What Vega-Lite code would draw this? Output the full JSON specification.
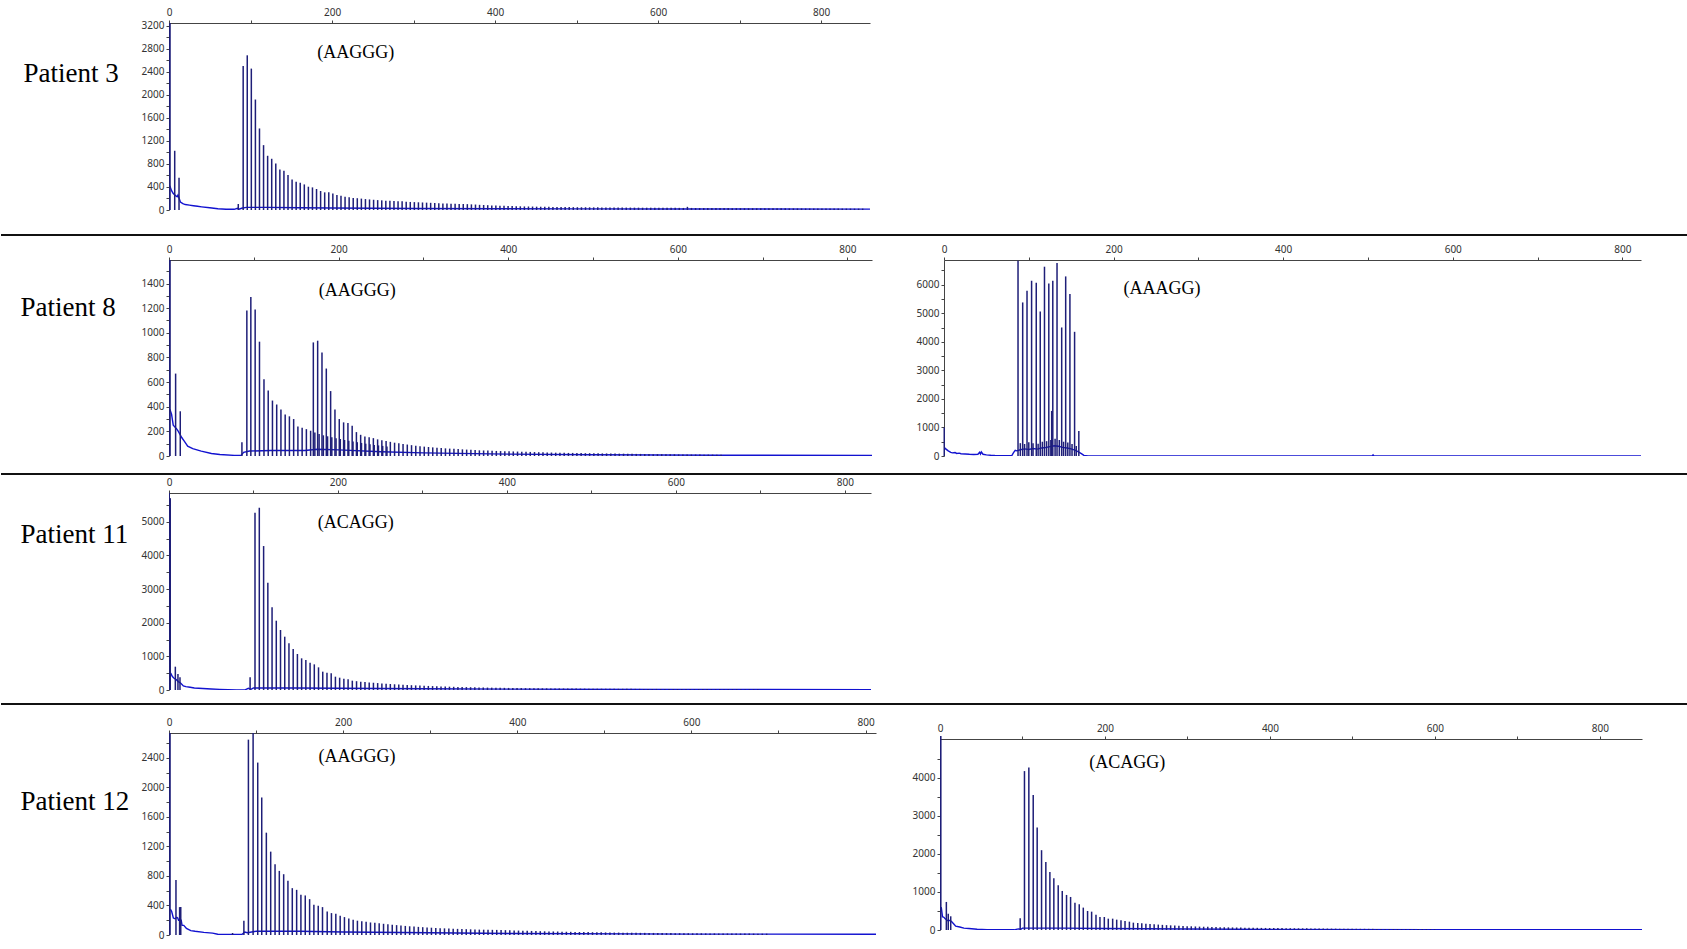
{
"$schema":"https://vega.github.io/schema/vega-lite/v6.json",
"padding":0,
"autosize":{"type":"pad"},
"background":"white",
"config":{"view":{"stroke":null},"axis":{"labelFont":"Noto Sans","labelFontSize":10,"labelColor":"#333","tickSize":3,"tickColor":"#444","domainColor":"#444","grid":false,"labelFlush":false,"labelOverlap":false}},
"datasets":{
"notes":[{"p":1,"x":229,"y":2730,"t":"(AAGGG)"},{"p":2,"x":222,"y":1339,"t":"(AAGGG)"},{"p":3,"x":257,"y":5851,"t":"(AAAGG)"},{"p":4,"x":221,"y":4962,"t":"(ACAGG)"},{"p":5,"x":216,"y":2417,"t":"(AAGGG)"},{"p":6,"x":227,"y":4388,"t":"(ACAGG)"}],
"trace":[
{"p":1,"x":1,"y":420},{"p":1,"x":3,"y":340},{"p":1,"x":5,"y":290},{"p":1,"x":8,"y":250},{"p":1,"x":10,"y":230},{"p":1,"x":11,"y":260},{"p":1,"x":14,"y":140},{"p":1,"x":17,"y":110},{"p":1,"x":20,"y":95},{"p":1,"x":25,"y":85},{"p":1,"x":30,"y":75},{"p":1,"x":35,"y":65},{"p":1,"x":40,"y":55},{"p":1,"x":50,"y":38},{"p":1,"x":60,"y":22},{"p":1,"x":70,"y":14},{"p":1,"x":80,"y":12},{"p":1,"x":84,"y":30},{"p":1,"x":86,"y":15},{"p":1,"x":89,"y":30},{"p":1,"x":95,"y":45},{"p":1,"x":120,"y":45},{"p":1,"x":160,"y":40},{"p":1,"x":200,"y":35},{"p":1,"x":250,"y":30},{"p":1,"x":300,"y":26},{"p":1,"x":400,"y":22},{"p":1,"x":500,"y":20},{"p":1,"x":600,"y":18},{"p":1,"x":700,"y":17},{"p":1,"x":860,"y":16},
{"p":2,"x":1,"y":380},{"p":2,"x":3,"y":340},{"p":2,"x":5,"y":250},{"p":2,"x":9,"y":220},{"p":2,"x":11,"y":200},{"p":2,"x":15,"y":150},{"p":2,"x":18,"y":120},{"p":2,"x":22,"y":80},{"p":2,"x":28,"y":60},{"p":2,"x":38,"y":40},{"p":2,"x":50,"y":20},{"p":2,"x":60,"y":12},{"p":2,"x":77,"y":5},{"p":2,"x":85,"y":5},{"p":2,"x":88,"y":30},{"p":2,"x":95,"y":40},{"p":2,"x":120,"y":45},{"p":2,"x":160,"y":45},{"p":2,"x":175,"y":55},{"p":2,"x":200,"y":50},{"p":2,"x":250,"y":35},{"p":2,"x":300,"y":25},{"p":2,"x":400,"y":15},{"p":2,"x":500,"y":10},{"p":2,"x":650,"y":6},{"p":2,"x":829,"y":5},
{"p":3,"x":0.5,"y":300},{"p":3,"x":2,"y":250},{"p":3,"x":5,"y":180},{"p":3,"x":8,"y":130},{"p":3,"x":10,"y":110},{"p":3,"x":13,"y":120},{"p":3,"x":15,"y":90},{"p":3,"x":18,"y":100},{"p":3,"x":20,"y":80},{"p":3,"x":25,"y":70},{"p":3,"x":30,"y":60},{"p":3,"x":35,"y":55},{"p":3,"x":40,"y":60},{"p":3,"x":42,"y":130},{"p":3,"x":43,"y":70},{"p":3,"x":44,"y":140},{"p":3,"x":46,"y":60},{"p":3,"x":50,"y":40},{"p":3,"x":55,"y":25},{"p":3,"x":60,"y":15},{"p":3,"x":70,"y":10},{"p":3,"x":80,"y":15},{"p":3,"x":82,"y":120},{"p":3,"x":84,"y":200},{"p":3,"x":86,"y":180},{"p":3,"x":90,"y":220},{"p":3,"x":95,"y":250},{"p":3,"x":100,"y":230},{"p":3,"x":105,"y":260},{"p":3,"x":110,"y":240},{"p":3,"x":115,"y":280},{"p":3,"x":120,"y":300},{"p":3,"x":125,"y":330},{"p":3,"x":130,"y":360},{"p":3,"x":135,"y":340},{"p":3,"x":140,"y":300},{"p":3,"x":145,"y":280},{"p":3,"x":150,"y":250},{"p":3,"x":155,"y":200},{"p":3,"x":158,"y":150},{"p":3,"x":162,"y":80},{"p":3,"x":165,"y":20},{"p":3,"x":170,"y":5},{"p":3,"x":505,"y":5},{"p":3,"x":506,"y":40},{"p":3,"x":507,"y":5},{"p":3,"x":822,"y":5},
{"p":4,"x":2,"y":500},{"p":4,"x":4,"y":400},{"p":4,"x":6,"y":350},{"p":4,"x":9,"y":300},{"p":4,"x":11,"y":250},{"p":4,"x":14,"y":200},{"p":4,"x":17,"y":120},{"p":4,"x":20,"y":100},{"p":4,"x":25,"y":80},{"p":4,"x":30,"y":60},{"p":4,"x":40,"y":45},{"p":4,"x":50,"y":30},{"p":4,"x":60,"y":20},{"p":4,"x":70,"y":10},{"p":4,"x":80,"y":5},{"p":4,"x":90,"y":5},{"p":4,"x":94,"y":50},{"p":4,"x":97,"y":20},{"p":4,"x":100,"y":60},{"p":4,"x":150,"y":60},{"p":4,"x":200,"y":50},{"p":4,"x":300,"y":35},{"p":4,"x":400,"y":25},{"p":4,"x":600,"y":15},{"p":4,"x":831,"y":10},
{"p":5,"x":1.5,"y":350},{"p":5,"x":3,"y":320},{"p":5,"x":5,"y":230},{"p":5,"x":7,"y":220},{"p":5,"x":9,"y":240},{"p":5,"x":10,"y":230},{"p":5,"x":11,"y":200},{"p":5,"x":14,"y":200},{"p":5,"x":15,"y":130},{"p":5,"x":17,"y":130},{"p":5,"x":20,"y":90},{"p":5,"x":25,"y":60},{"p":5,"x":30,"y":50},{"p":5,"x":40,"y":35},{"p":5,"x":50,"y":25},{"p":5,"x":56,"y":10},{"p":5,"x":70,"y":8},{"p":5,"x":84,"y":10},{"p":5,"x":87,"y":40},{"p":5,"x":90,"y":30},{"p":5,"x":100,"y":50},{"p":5,"x":150,"y":50},{"p":5,"x":200,"y":40},{"p":5,"x":300,"y":30},{"p":5,"x":400,"y":20},{"p":5,"x":600,"y":12},{"p":5,"x":812,"y":10},
{"p":6,"x":1.5,"y":600},{"p":6,"x":3,"y":350},{"p":6,"x":5,"y":330},{"p":6,"x":6,"y":300},{"p":6,"x":9,"y":250},{"p":6,"x":12,"y":250},{"p":6,"x":14,"y":220},{"p":6,"x":17,"y":150},{"p":6,"x":19,"y":100},{"p":6,"x":24,"y":80},{"p":6,"x":29,"y":50},{"p":6,"x":35,"y":40},{"p":6,"x":45,"y":20},{"p":6,"x":57,"y":5},{"p":6,"x":90,"y":5},{"p":6,"x":95,"y":30},{"p":6,"x":98,"y":20},{"p":6,"x":100,"y":50},{"p":6,"x":150,"y":50},{"p":6,"x":200,"y":40},{"p":6,"x":300,"y":25},{"p":6,"x":400,"y":15},{"p":6,"x":600,"y":10},{"p":6,"x":851,"y":8}
],
"peaks":[
{"p":1,"x":0.5,"y":3400},{"p":1,"x":1.2,"y":3400},{"p":1,"x":7,"y":1030},{"p":1,"x":12.3,"y":560},{"p":1,"x":85,"y":104},
{"p":1,"x":91,"y":2505},{"p":1,"x":96,"y":2690},{"p":1,"x":101,"y":2459},{"p":1,"x":106,"y":1921},{"p":1,"x":111,"y":1418},{"p":1,"x":116,"y":1128},{"p":1,"x":121,"y":943},{"p":1,"x":126,"y":891},{"p":1,"x":131,"y":810},{"p":1,"x":136,"y":706},{"p":1,"x":141,"y":683},{"p":1,"x":146,"y":608},{"p":1,"x":151,"y":532},{"p":1,"x":156,"y":492},{"p":1,"x":161,"y":474},{"p":1,"x":166,"y":445},{"p":1,"x":171,"y":405},{"p":1,"x":176,"y":393},{"p":1,"x":181,"y":365},{"p":1,"x":186,"y":330},{"p":1,"x":191,"y":307},{"p":1,"x":196,"y":307},{"p":1,"x":201,"y":289},{"p":1,"x":206,"y":260},{"p":1,"x":211,"y":249},{"p":1,"x":216,"y":231},{"p":1,"x":221,"y":220},{"p":1,"x":226,"y":208},{"p":1,"x":231,"y":205},{"p":1,"x":236,"y":198},{"p":1,"x":241,"y":190},{"p":1,"x":246,"y":184},{"p":1,"x":251,"y":178},{"p":1,"x":256,"y":172},{"p":1,"x":261,"y":168},{"p":1,"x":266,"y":163},{"p":1,"x":271,"y":160},{"p":1,"x":276,"y":156},{"p":1,"x":281,"y":153},{"p":1,"x":286,"y":150},{"p":1,"x":291,"y":145},{"p":1,"x":296,"y":140},{"p":1,"x":301,"y":137},{"p":1,"x":306,"y":134},{"p":1,"x":311,"y":131},{"p":1,"x":316,"y":128},{"p":1,"x":321,"y":125},{"p":1,"x":326,"y":122},{"p":1,"x":331,"y":118},{"p":1,"x":336,"y":115},{"p":1,"x":341,"y":112},{"p":1,"x":346,"y":110},{"p":1,"x":351,"y":108},{"p":1,"x":356,"y":106},{"p":1,"x":361,"y":104},{"p":1,"x":366,"y":102},{"p":1,"x":371,"y":98},{"p":1,"x":376,"y":95},{"p":1,"x":381,"y":90},{"p":1,"x":386,"y":87},{"p":1,"x":391,"y":84},{"p":1,"x":396,"y":80},{"p":1,"x":401,"y":77},{"p":1,"x":406,"y":75},{"p":1,"x":411,"y":72},{"p":1,"x":416,"y":70},{"p":1,"x":421,"y":68},{"p":1,"x":426,"y":66},{"p":1,"x":431,"y":64},{"p":1,"x":436,"y":62},{"p":1,"x":441,"y":61},{"p":1,"x":446,"y":60},{"p":1,"x":451,"y":58},{"p":1,"x":456,"y":57},{"p":1,"x":461,"y":56},{"p":1,"x":466,"y":55},{"p":1,"x":471,"y":54},{"p":1,"x":476,"y":53},{"p":1,"x":481,"y":52},{"p":1,"x":486,"y":51},{"p":1,"x":491,"y":50},{"p":1,"x":496,"y":50},{"p":1,"x":501,"y":49},{"p":1,"x":506,"y":48},{"p":1,"x":511,"y":48},{"p":1,"x":516,"y":47},{"p":1,"x":521,"y":46},{"p":1,"x":526,"y":46},{"p":1,"x":531,"y":45},{"p":1,"x":536,"y":45},{"p":1,"x":541,"y":44},{"p":1,"x":546,"y":44},{"p":1,"x":551,"y":43},{"p":1,"x":556,"y":43},{"p":1,"x":561,"y":42},{"p":1,"x":566,"y":42},{"p":1,"x":571,"y":41},{"p":1,"x":576,"y":41},{"p":1,"x":581,"y":40},{"p":1,"x":586,"y":40},{"p":1,"x":591,"y":40},{"p":1,"x":596,"y":39},{"p":1,"x":601,"y":39},{"p":1,"x":606,"y":38},{"p":1,"x":611,"y":38},{"p":1,"x":616,"y":37},{"p":1,"x":621,"y":37},{"p":1,"x":626,"y":37},{"p":1,"x":631,"y":36},{"p":1,"x":636,"y":55},{"p":1,"x":641,"y":36},{"p":1,"x":646,"y":35},{"p":1,"x":651,"y":35},{"p":1,"x":656,"y":35},{"p":1,"x":661,"y":34},{"p":1,"x":666,"y":34},{"p":1,"x":671,"y":34},{"p":1,"x":676,"y":33},{"p":1,"x":681,"y":33},{"p":1,"x":686,"y":33},{"p":1,"x":691,"y":32},{"p":1,"x":696,"y":32},{"p":1,"x":701,"y":32},{"p":1,"x":706,"y":31},{"p":1,"x":711,"y":31},{"p":1,"x":716,"y":31},{"p":1,"x":721,"y":30},{"p":1,"x":726,"y":30},{"p":1,"x":731,"y":30},{"p":1,"x":736,"y":30},{"p":1,"x":741,"y":29},{"p":1,"x":746,"y":29},{"p":1,"x":751,"y":29},{"p":1,"x":756,"y":29},{"p":1,"x":761,"y":28},{"p":1,"x":766,"y":28},{"p":1,"x":771,"y":28},{"p":1,"x":776,"y":28},{"p":1,"x":781,"y":27},{"p":1,"x":786,"y":27},{"p":1,"x":791,"y":27},{"p":1,"x":796,"y":27},{"p":1,"x":801,"y":26},{"p":1,"x":806,"y":26},{"p":1,"x":811,"y":26},{"p":1,"x":816,"y":26},{"p":1,"x":821,"y":25},{"p":1,"x":826,"y":25},{"p":1,"x":831,"y":25},{"p":1,"x":836,"y":25},{"p":1,"x":841,"y":24},{"p":1,"x":846,"y":24},{"p":1,"x":851,"y":24},
{"p":2,"x":0.5,"y":1700},{"p":2,"x":1.2,"y":1700},{"p":2,"x":7.8,"y":669},{"p":2,"x":13.3,"y":363},{"p":2,"x":86,"y":112},
{"p":2,"x":91.8,"y":1182},{"p":2,"x":96.5,"y":1291},{"p":2,"x":101.6,"y":1190},{"p":2,"x":106.7,"y":928},{"p":2,"x":112,"y":622},{"p":2,"x":117,"y":532},{"p":2,"x":122,"y":450},{"p":2,"x":127,"y":418},{"p":2,"x":132,"y":377},{"p":2,"x":137,"y":336},{"p":2,"x":142,"y":322},{"p":2,"x":147,"y":300},{"p":2,"x":152,"y":240},{"p":2,"x":157,"y":229},{"p":2,"x":162,"y":218},{"p":2,"x":167,"y":205},{"p":2,"x":172,"y":190},{"p":2,"x":177,"y":178},{"p":2,"x":182,"y":168},{"p":2,"x":187,"y":160},{"p":2,"x":192,"y":152},{"p":2,"x":197,"y":145},{"p":2,"x":202,"y":138},{"p":2,"x":207,"y":130},{"p":2,"x":212,"y":124},{"p":2,"x":217,"y":118},{"p":2,"x":222,"y":112},{"p":2,"x":227,"y":106},{"p":2,"x":232,"y":100},{"p":2,"x":237,"y":95},{"p":2,"x":242,"y":90},{"p":2,"x":247,"y":86},{"p":2,"x":252,"y":82},{"p":2,"x":257,"y":78},
{"p":2,"x":170.2,"y":922},{"p":2,"x":175.3,"y":936},{"p":2,"x":180.4,"y":840},{"p":2,"x":185.5,"y":710},{"p":2,"x":190.6,"y":527},{"p":2,"x":195.7,"y":377},{"p":2,"x":200.8,"y":300},{"p":2,"x":205.9,"y":273},{"p":2,"x":211,"y":267},{"p":2,"x":216,"y":246},{"p":2,"x":221,"y":194},{"p":2,"x":226,"y":172},{"p":2,"x":231,"y":158},{"p":2,"x":236,"y":153},{"p":2,"x":241,"y":145},{"p":2,"x":246,"y":135},{"p":2,"x":251,"y":128},{"p":2,"x":256,"y":122},{"p":2,"x":261,"y":115},{"p":2,"x":266,"y":108},{"p":2,"x":271,"y":103},{"p":2,"x":276,"y":98},{"p":2,"x":281,"y":93},{"p":2,"x":286,"y":88},{"p":2,"x":291,"y":84},{"p":2,"x":296,"y":80},{"p":2,"x":301,"y":76},{"p":2,"x":306,"y":73},{"p":2,"x":311,"y":70},{"p":2,"x":316,"y":67},{"p":2,"x":321,"y":64},{"p":2,"x":326,"y":62},{"p":2,"x":331,"y":60},{"p":2,"x":336,"y":58},{"p":2,"x":341,"y":56},{"p":2,"x":346,"y":54},{"p":2,"x":351,"y":52},{"p":2,"x":356,"y":50},{"p":2,"x":361,"y":48},{"p":2,"x":366,"y":46},{"p":2,"x":371,"y":45},{"p":2,"x":376,"y":44},{"p":2,"x":381,"y":42},{"p":2,"x":386,"y":41},{"p":2,"x":391,"y":40},{"p":2,"x":396,"y":39},{"p":2,"x":401,"y":38},{"p":2,"x":406,"y":37},{"p":2,"x":411,"y":36},{"p":2,"x":416,"y":35},{"p":2,"x":421,"y":34},{"p":2,"x":426,"y":33},{"p":2,"x":431,"y":32},{"p":2,"x":436,"y":31},{"p":2,"x":441,"y":30},{"p":2,"x":446,"y":29},{"p":2,"x":451,"y":28},{"p":2,"x":456,"y":27},{"p":2,"x":461,"y":26},{"p":2,"x":466,"y":26},{"p":2,"x":471,"y":25},{"p":2,"x":476,"y":25},{"p":2,"x":481,"y":24},{"p":2,"x":486,"y":24},{"p":2,"x":491,"y":23},{"p":2,"x":496,"y":23},{"p":2,"x":501,"y":22},{"p":2,"x":506,"y":22},{"p":2,"x":511,"y":21},{"p":2,"x":516,"y":21},{"p":2,"x":521,"y":20},{"p":2,"x":526,"y":20},{"p":2,"x":531,"y":19},{"p":2,"x":536,"y":19},{"p":2,"x":541,"y":18},{"p":2,"x":546,"y":18},{"p":2,"x":551,"y":17},{"p":2,"x":556,"y":17},{"p":2,"x":561,"y":16},{"p":2,"x":566,"y":16},{"p":2,"x":571,"y":15},{"p":2,"x":576,"y":15},{"p":2,"x":581,"y":15},{"p":2,"x":586,"y":14},{"p":2,"x":591,"y":14},{"p":2,"x":596,"y":14},{"p":2,"x":601,"y":13},{"p":2,"x":606,"y":13},{"p":2,"x":611,"y":13},{"p":2,"x":616,"y":12},{"p":2,"x":621,"y":12},{"p":2,"x":626,"y":12},{"p":2,"x":631,"y":11},{"p":2,"x":636,"y":11},{"p":2,"x":641,"y":11},{"p":2,"x":646,"y":10},{"p":2,"x":651,"y":10},
{"p":3,"x":0.3,"y":1000},{"p":3,"x":87.3,"y":6842},{"p":3,"x":92.8,"y":5380},{"p":3,"x":97.9,"y":5790},{"p":3,"x":103.3,"y":6140},{"p":3,"x":108.8,"y":6070},{"p":3,"x":113.5,"y":5064},{"p":3,"x":118.5,"y":6632},{"p":3,"x":123.6,"y":6047},{"p":3,"x":127,"y":1579},{"p":3,"x":128.3,"y":6140},{"p":3,"x":133.3,"y":6760},{"p":3,"x":138.8,"y":4503},{"p":3,"x":143.5,"y":6292},{"p":3,"x":148.5,"y":5673},{"p":3,"x":154,"y":4351},{"p":3,"x":159,"y":877},
{"p":3,"x":90,"y":450},{"p":3,"x":95,"y":420},{"p":3,"x":100,"y":480},{"p":3,"x":105,"y":450},{"p":3,"x":111,"y":430},{"p":3,"x":116,"y":500},{"p":3,"x":121,"y":520},{"p":3,"x":126,"y":560},{"p":3,"x":131,"y":600},{"p":3,"x":136,"y":560},{"p":3,"x":141,"y":500},{"p":3,"x":146,"y":470},{"p":3,"x":151,"y":420},{"p":3,"x":156,"y":350},
{"p":4,"x":0.3,"y":6000},{"p":4,"x":1.5,"y":5700},{"p":4,"x":7.5,"y":693},{"p":4,"x":10.6,"y":475},{"p":4,"x":13,"y":376},{"p":4,"x":96,"y":376},
{"p":4,"x":101.8,"y":5267},{"p":4,"x":106.9,"y":5415},{"p":4,"x":112,"y":4277},{"p":4,"x":117,"y":3188},{"p":4,"x":122,"y":2455},{"p":4,"x":127,"y":2059},{"p":4,"x":132,"y":1782},{"p":4,"x":137,"y":1584},{"p":4,"x":142,"y":1386},{"p":4,"x":147,"y":1218},{"p":4,"x":152,"y":1069},{"p":4,"x":157,"y":941},{"p":4,"x":162,"y":891},{"p":4,"x":167,"y":812},{"p":4,"x":172,"y":762},{"p":4,"x":177,"y":673},{"p":4,"x":182,"y":545},{"p":4,"x":187,"y":515},{"p":4,"x":192,"y":495},{"p":4,"x":197,"y":396},{"p":4,"x":202,"y":366},{"p":4,"x":207,"y":337},{"p":4,"x":212,"y":317},{"p":4,"x":217,"y":277},{"p":4,"x":222,"y":262},{"p":4,"x":227,"y":248},{"p":4,"x":232,"y":236},{"p":4,"x":237,"y":226},{"p":4,"x":242,"y":216},{"p":4,"x":247,"y":206},{"p":4,"x":252,"y":196},{"p":4,"x":257,"y":187},{"p":4,"x":262,"y":178},{"p":4,"x":267,"y":170},{"p":4,"x":272,"y":163},{"p":4,"x":277,"y":156},{"p":4,"x":282,"y":149},{"p":4,"x":287,"y":143},{"p":4,"x":292,"y":137},{"p":4,"x":297,"y":131},{"p":4,"x":302,"y":126},{"p":4,"x":307,"y":121},{"p":4,"x":312,"y":116},{"p":4,"x":317,"y":111},{"p":4,"x":322,"y":107},{"p":4,"x":327,"y":103},{"p":4,"x":332,"y":99},{"p":4,"x":337,"y":95},{"p":4,"x":342,"y":92},{"p":4,"x":347,"y":89},{"p":4,"x":352,"y":86},{"p":4,"x":357,"y":83},{"p":4,"x":362,"y":80},{"p":4,"x":367,"y":77},{"p":4,"x":372,"y":75},{"p":4,"x":377,"y":72},{"p":4,"x":382,"y":70},{"p":4,"x":387,"y":68},{"p":4,"x":392,"y":66},{"p":4,"x":397,"y":64},{"p":4,"x":402,"y":62},{"p":4,"x":407,"y":60},{"p":4,"x":412,"y":58},{"p":4,"x":417,"y":57},{"p":4,"x":422,"y":55},{"p":4,"x":427,"y":54},{"p":4,"x":432,"y":52},{"p":4,"x":437,"y":51},{"p":4,"x":442,"y":50},{"p":4,"x":447,"y":49},{"p":4,"x":452,"y":48},{"p":4,"x":457,"y":47},{"p":4,"x":462,"y":46},{"p":4,"x":467,"y":45},{"p":4,"x":472,"y":44},{"p":4,"x":477,"y":43},{"p":4,"x":482,"y":42},{"p":4,"x":487,"y":41},{"p":4,"x":492,"y":40},{"p":4,"x":497,"y":40},{"p":4,"x":502,"y":39},{"p":4,"x":507,"y":38},{"p":4,"x":512,"y":38},{"p":4,"x":517,"y":37},{"p":4,"x":522,"y":36},{"p":4,"x":527,"y":36},{"p":4,"x":532,"y":35},{"p":4,"x":537,"y":35},{"p":4,"x":542,"y":34},{"p":4,"x":547,"y":34},{"p":4,"x":552,"y":33},{"p":4,"x":557,"y":33},{"p":4,"x":562,"y":32},{"p":4,"x":567,"y":32},{"p":4,"x":572,"y":31},{"p":4,"x":577,"y":31},{"p":4,"x":582,"y":30},{"p":4,"x":587,"y":30},{"p":4,"x":592,"y":30},{"p":4,"x":597,"y":29},{"p":4,"x":602,"y":29},{"p":4,"x":607,"y":29},{"p":4,"x":612,"y":28},{"p":4,"x":617,"y":28},{"p":4,"x":622,"y":28},{"p":4,"x":627,"y":27},{"p":4,"x":632,"y":27},{"p":4,"x":637,"y":27},{"p":4,"x":642,"y":26},{"p":4,"x":647,"y":26},{"p":4,"x":652,"y":26},{"p":4,"x":657,"y":25},{"p":4,"x":662,"y":25},{"p":4,"x":667,"y":25},{"p":4,"x":672,"y":24},{"p":4,"x":677,"y":24},{"p":4,"x":682,"y":24},{"p":4,"x":687,"y":23},{"p":4,"x":692,"y":23},{"p":4,"x":697,"y":23},
{"p":5,"x":0.3,"y":2900},{"p":5,"x":1.2,"y":2900},{"p":5,"x":8,"y":747},{"p":5,"x":12.2,"y":378},{"p":5,"x":13.5,"y":380},{"p":5,"x":73,"y":27},{"p":5,"x":86,"y":194},
{"p":5,"x":91.2,"y":2648},{"p":5,"x":96.6,"y":2900},{"p":5,"x":101.9,"y":2337},{"p":5,"x":106.5,"y":1864},{"p":5,"x":111.8,"y":1387},{"p":5,"x":116.8,"y":1130},{"p":5,"x":121.8,"y":959},{"p":5,"x":126.7,"y":869},{"p":5,"x":131.7,"y":824},{"p":5,"x":136.6,"y":734},{"p":5,"x":141.6,"y":635},{"p":5,"x":146.6,"y":612},{"p":5,"x":151.5,"y":545},{"p":5,"x":156.5,"y":536},{"p":5,"x":161.5,"y":486},{"p":5,"x":166.4,"y":410},{"p":5,"x":171.4,"y":396},{"p":5,"x":176.3,"y":378},{"p":5,"x":181.7,"y":320},{"p":5,"x":186.6,"y":297},{"p":5,"x":191.6,"y":288},{"p":5,"x":196.6,"y":261},{"p":5,"x":201.5,"y":243},{"p":5,"x":206.5,"y":225},{"p":5,"x":211.5,"y":207},{"p":5,"x":216.4,"y":194},{"p":5,"x":221.4,"y":185},{"p":5,"x":226.4,"y":178},{"p":5,"x":231.4,"y":170},{"p":5,"x":236.4,"y":165},{"p":5,"x":241.4,"y":160},{"p":5,"x":246.4,"y":152},{"p":5,"x":251.4,"y":146},{"p":5,"x":256.4,"y":140},{"p":5,"x":261.4,"y":134},{"p":5,"x":266.4,"y":128},{"p":5,"x":271.4,"y":123},{"p":5,"x":276.4,"y":118},{"p":5,"x":281.4,"y":114},{"p":5,"x":286.4,"y":110},{"p":5,"x":291.4,"y":106},{"p":5,"x":296.4,"y":102},{"p":5,"x":301.4,"y":99},{"p":5,"x":306.4,"y":96},{"p":5,"x":311.4,"y":93},{"p":5,"x":316.4,"y":90},{"p":5,"x":321.4,"y":88},{"p":5,"x":326.4,"y":85},{"p":5,"x":331.4,"y":83},{"p":5,"x":336.4,"y":81},{"p":5,"x":341.4,"y":79},{"p":5,"x":346.4,"y":77},{"p":5,"x":351.4,"y":75},{"p":5,"x":356.4,"y":73},{"p":5,"x":361.4,"y":72},{"p":5,"x":366.4,"y":71},{"p":5,"x":371.4,"y":70},{"p":5,"x":376.4,"y":69},{"p":5,"x":381.4,"y":68},{"p":5,"x":386.4,"y":66},{"p":5,"x":391.4,"y":64},{"p":5,"x":396.4,"y":62},{"p":5,"x":401.4,"y":60},{"p":5,"x":406.4,"y":58},{"p":5,"x":411.4,"y":56},{"p":5,"x":416.4,"y":55},{"p":5,"x":421.4,"y":53},{"p":5,"x":426.4,"y":52},{"p":5,"x":431.4,"y":50},{"p":5,"x":436.4,"y":49},{"p":5,"x":441.4,"y":48},{"p":5,"x":446.4,"y":47},{"p":5,"x":451.4,"y":45},{"p":5,"x":456.4,"y":44},{"p":5,"x":461.4,"y":43},{"p":5,"x":466.4,"y":42},{"p":5,"x":471.4,"y":41},{"p":5,"x":476.4,"y":40},{"p":5,"x":481.4,"y":39},{"p":5,"x":486.4,"y":38},{"p":5,"x":491.4,"y":37},{"p":5,"x":496.4,"y":36},{"p":5,"x":501.4,"y":35},{"p":5,"x":506.4,"y":34},{"p":5,"x":511.4,"y":33},{"p":5,"x":516.4,"y":33},{"p":5,"x":521.4,"y":32},{"p":5,"x":526.4,"y":31},{"p":5,"x":531.4,"y":31},{"p":5,"x":536.4,"y":30},{"p":5,"x":541.4,"y":29},{"p":5,"x":546.4,"y":29},{"p":5,"x":551.4,"y":28},{"p":5,"x":556.4,"y":28},{"p":5,"x":561.4,"y":27},{"p":5,"x":566.4,"y":27},{"p":5,"x":571.4,"y":26},{"p":5,"x":576.4,"y":26},{"p":5,"x":581.4,"y":25},{"p":5,"x":586.4,"y":25},{"p":5,"x":591.4,"y":24},{"p":5,"x":596.4,"y":24},{"p":5,"x":601.4,"y":23},{"p":5,"x":606.4,"y":23},{"p":5,"x":611.4,"y":23},{"p":5,"x":616.4,"y":22},{"p":5,"x":621.4,"y":22},{"p":5,"x":626.4,"y":22},{"p":5,"x":631.4,"y":21},{"p":5,"x":636.4,"y":21},{"p":5,"x":641.4,"y":21},{"p":5,"x":646.4,"y":20},{"p":5,"x":651.4,"y":20},{"p":5,"x":656.4,"y":20},{"p":5,"x":661.4,"y":19},{"p":5,"x":666.4,"y":19},{"p":5,"x":671.4,"y":19},{"p":5,"x":676.4,"y":18},{"p":5,"x":681.4,"y":18},{"p":5,"x":686.4,"y":18},
{"p":6,"x":0.3,"y":5100},{"p":6,"x":1,"y":5100},{"p":6,"x":7.7,"y":737},{"p":6,"x":10,"y":430},{"p":6,"x":13,"y":360},{"p":6,"x":97.2,"y":307},
{"p":6,"x":102.4,"y":4175},{"p":6,"x":107.7,"y":4272},{"p":6,"x":113,"y":3544},{"p":6,"x":117.8,"y":2693},{"p":6,"x":123.1,"y":2097},{"p":6,"x":128.3,"y":1789},{"p":6,"x":133.2,"y":1526},{"p":6,"x":138,"y":1360},{"p":6,"x":143.3,"y":1175},{"p":6,"x":148.2,"y":1026},{"p":6,"x":153.4,"y":921},{"p":6,"x":158.3,"y":868},{"p":6,"x":163.6,"y":719},{"p":6,"x":168.8,"y":675},{"p":6,"x":173.7,"y":588},{"p":6,"x":178.9,"y":500},{"p":6,"x":183.8,"y":482},{"p":6,"x":189.1,"y":403},{"p":6,"x":193.9,"y":342},{"p":6,"x":199.2,"y":342},{"p":6,"x":204,"y":298},{"p":6,"x":209.3,"y":298},{"p":6,"x":214.2,"y":272},{"p":6,"x":219.4,"y":254},{"p":6,"x":224.3,"y":237},{"p":6,"x":229.6,"y":219},{"p":6,"x":234.4,"y":193},{"p":6,"x":239.7,"y":184},{"p":6,"x":244.6,"y":175},{"p":6,"x":249.6,"y":166},{"p":6,"x":254.6,"y":158},{"p":6,"x":259.6,"y":150},{"p":6,"x":264.6,"y":142},{"p":6,"x":269.6,"y":135},{"p":6,"x":274.6,"y":128},{"p":6,"x":279.6,"y":122},{"p":6,"x":284.6,"y":116},{"p":6,"x":289.6,"y":111},{"p":6,"x":294.6,"y":106},{"p":6,"x":299.6,"y":101},{"p":6,"x":304.6,"y":97},{"p":6,"x":309.6,"y":93},{"p":6,"x":314.6,"y":89},{"p":6,"x":319.6,"y":86},{"p":6,"x":324.6,"y":83},{"p":6,"x":329.6,"y":80},{"p":6,"x":334.6,"y":77},{"p":6,"x":339.6,"y":74},{"p":6,"x":344.6,"y":72},{"p":6,"x":349.6,"y":70},{"p":6,"x":354.6,"y":68},{"p":6,"x":359.6,"y":66},{"p":6,"x":364.6,"y":64},{"p":6,"x":369.6,"y":62},{"p":6,"x":374.6,"y":60},{"p":6,"x":379.6,"y":58},{"p":6,"x":384.6,"y":57},{"p":6,"x":389.6,"y":55},{"p":6,"x":394.6,"y":54},{"p":6,"x":399.6,"y":53},{"p":6,"x":404.6,"y":52},{"p":6,"x":409.6,"y":51},{"p":6,"x":414.6,"y":50},{"p":6,"x":419.6,"y":48},{"p":6,"x":424.6,"y":47},{"p":6,"x":429.6,"y":46},{"p":6,"x":434.6,"y":45},{"p":6,"x":439.6,"y":44},{"p":6,"x":444.6,"y":43},{"p":6,"x":449.6,"y":42},{"p":6,"x":454.6,"y":41},{"p":6,"x":459.6,"y":40},{"p":6,"x":464.6,"y":39},{"p":6,"x":469.6,"y":38},{"p":6,"x":474.6,"y":37},{"p":6,"x":479.6,"y":36},{"p":6,"x":484.6,"y":35},{"p":6,"x":489.6,"y":34},{"p":6,"x":494.6,"y":33},{"p":6,"x":499.6,"y":33},{"p":6,"x":504.6,"y":32},{"p":6,"x":509.6,"y":31},{"p":6,"x":514.6,"y":31},{"p":6,"x":519.6,"y":30},{"p":6,"x":524.6,"y":30},{"p":6,"x":529.6,"y":29},{"p":6,"x":534.6,"y":29},{"p":6,"x":539.6,"y":28},{"p":6,"x":544.6,"y":28},{"p":6,"x":549.6,"y":27},{"p":6,"x":554.6,"y":27},{"p":6,"x":559.6,"y":26},{"p":6,"x":564.6,"y":26},{"p":6,"x":569.6,"y":25},{"p":6,"x":574.6,"y":25},{"p":6,"x":579.6,"y":24},{"p":6,"x":584.6,"y":24},{"p":6,"x":589.6,"y":24},{"p":6,"x":594.6,"y":23},{"p":6,"x":599.6,"y":23}
]
},
"columns":4,
"spacing":0,
"bounds":"flush",
"concat":[
{"width":168,"height":23,"data":{"values":[]},"mark":"point"},
{"width":707,"height":23,"data":{"values":[]},"mark":"point"},
{"width":64,"height":23,"data":{"values":[]},"mark":"point"},
{"width":748,"height":23,"data":{"values":[]},"mark":"point"},

{"width":168,"height":187,"data":{"values":[]},"mark":"point"},
{"width":701,"height":187,
"encoding":{
"x":{"field":"x","type":"quantitative","scale":{"domain":[0,860],"nice":false,"zero":false},"axis":{"orient":"top","title":null,"values":[0,100,200,300,400,500,600,700,800],"format":"d","labelExpr":"datum.value % 200 === 0 ? datum.label : ''","labelPadding":3}},
"y":{"field":"y","type":"quantitative","scale":{"domain":[0,3252],"nice":false},"axis":{"title":"Patient 3","titleAngle":0,"titleAlign":"left","titleBaseline":"alphabetic","titleX":-146,"titleY":58,"titleFont":"Liberation Serif","titleFontSize":27,"titleFontWeight":"normal","titleColor":"#000","values":[0,200,400,600,800,1000,1200,1400,1600,1800,2000,2200,2400,2600,2800,3000,3200],"format":"d","labelExpr":"datum.value % 400 === 0 ? datum.label : ''","labelPadding":2}}
},
"layer":[
{"data":{"name":"trace"},"transform":[{"filter":"datum.p === 1"}],"mark":{"type":"line","color":"#1212d0","strokeWidth":1.4,"clip":true}},
{"data":{"name":"peaks"},"transform":[{"filter":"datum.p === 1"}],"mark":{"type":"rule","color":"#1e1e78","strokeWidth":1.5,"clip":true},"encoding":{"y2":{"datum":0}}},
{"data":{"name":"notes"},"transform":[{"filter":"datum.p === 1"}],"mark":{"type":"text","font":"Liberation Serif","fontSize":18,"color":"#000","align":"center","baseline":"middle"},"encoding":{"text":{"field":"t"}}}
]},
{"width":64,"height":187,"data":{"values":[]},"mark":"point"},
{"width":748,"height":187,"data":{"values":[]},"mark":"point"},

{"width":168,"height":50,"data":{"values":[{"a":0,"b":1,"v":0.5}]},"mark":{"type":"rule","color":"#111","strokeWidth":2},"encoding":{"x":{"field":"a","type":"quantitative","scale":{"domain":[0,1]},"axis":null},"x2":{"field":"b"},"y":{"field":"v","type":"quantitative","scale":{"domain":[0,1]},"axis":null}}},
{"width":707,"height":50,"data":{"values":[{"a":0,"b":1,"v":0.5}]},"mark":{"type":"rule","color":"#111","strokeWidth":2},"encoding":{"x":{"field":"a","type":"quantitative","scale":{"domain":[0,1]},"axis":null},"x2":{"field":"b"},"y":{"field":"v","type":"quantitative","scale":{"domain":[0,1]},"axis":null}}},
{"width":64,"height":50,"data":{"values":[{"a":0,"b":1,"v":0.5}]},"mark":{"type":"rule","color":"#111","strokeWidth":2},"encoding":{"x":{"field":"a","type":"quantitative","scale":{"domain":[0,1]},"axis":null},"x2":{"field":"b"},"y":{"field":"v","type":"quantitative","scale":{"domain":[0,1]},"axis":null}}},
{"width":748,"height":50,"data":{"values":[{"a":0,"b":1,"v":0.5}]},"mark":{"type":"rule","color":"#111","strokeWidth":2},"encoding":{"x":{"field":"a","type":"quantitative","scale":{"domain":[0,1]},"axis":null},"x2":{"field":"b"},"y":{"field":"v","type":"quantitative","scale":{"domain":[0,1]},"axis":null}}},

{"width":168,"height":196,"data":{"values":[]},"mark":"point"},
{"width":703,"height":196,
"encoding":{
"x":{"field":"x","type":"quantitative","scale":{"domain":[0,829],"nice":false,"zero":false},"axis":{"orient":"top","title":null,"values":[0,100,200,300,400,500,600,700,800],"format":"d","labelExpr":"datum.value % 200 === 0 ? datum.label : ''","labelPadding":3}},
"y":{"field":"y","type":"quantitative","scale":{"domain":[0,1591],"nice":false},"axis":{"title":"Patient 8","titleAngle":0,"titleAlign":"left","titleBaseline":"alphabetic","titleX":-149,"titleY":55,"titleFont":"Liberation Serif","titleFontSize":27,"titleFontWeight":"normal","titleColor":"#000","values":[0,100,200,300,400,500,600,700,800,900,1000,1100,1200,1300,1400,1500],"format":"d","labelExpr":"datum.value % 200 === 0 ? datum.label : ''","labelPadding":2}}
},
"layer":[
{"data":{"name":"trace"},"transform":[{"filter":"datum.p === 2"}],"mark":{"type":"line","color":"#1212d0","strokeWidth":1.4,"clip":true}},
{"data":{"name":"peaks"},"transform":[{"filter":"datum.p === 2"}],"mark":{"type":"rule","color":"#1e1e78","strokeWidth":1.5,"clip":true},"encoding":{"y2":{"datum":0}}},
{"data":{"name":"notes"},"transform":[{"filter":"datum.p === 2"}],"mark":{"type":"text","font":"Liberation Serif","fontSize":18,"color":"#000","align":"center","baseline":"middle"},"encoding":{"text":{"field":"t"}}}
]},
{"width":64,"height":196,"data":{"values":[]},"mark":"point"},
{"width":701,"height":196,
"encoding":{
"x":{"field":"x","type":"quantitative","scale":{"domain":[0,822],"nice":false,"zero":false,"range":[4,701]},"axis":{"orient":"top","title":null,"values":[0,100,200,300,400,500,600,700,800],"format":"d","labelExpr":"datum.value % 200 === 0 ? datum.label : ''","labelPadding":3}},
"y":{"field":"y","type":"quantitative","scale":{"domain":[0,6867],"nice":false},"axis":{"title":null,"offset":-4,"values":[0,500,1000,1500,2000,2500,3000,3500,4000,4500,5000,5500,6000,6500],"format":"d","labelExpr":"datum.value % 1000 === 0 ? datum.label : ''","labelPadding":2}}
},
"layer":[
{"data":{"name":"trace"},"transform":[{"filter":"datum.p === 3"}],"mark":{"type":"line","color":"#1212d0","strokeWidth":1.4,"clip":true}},
{"data":{"name":"peaks"},"transform":[{"filter":"datum.p === 3"}],"mark":{"type":"rule","color":"#1e1e78","strokeWidth":1.5,"clip":true},"encoding":{"y2":{"datum":0}}},
{"data":{"name":"notes"},"transform":[{"filter":"datum.p === 3"}],"mark":{"type":"text","font":"Liberation Serif","fontSize":18,"color":"#000","align":"center","baseline":"middle"},"encoding":{"text":{"field":"t"}}}
]},

{"width":168,"height":37,"data":{"values":[{"a":0,"b":1,"v":0.514}]},"mark":{"type":"rule","color":"#111","strokeWidth":2},"encoding":{"x":{"field":"a","type":"quantitative","scale":{"domain":[0,1]},"axis":null},"x2":{"field":"b"},"y":{"field":"v","type":"quantitative","scale":{"domain":[0,1]},"axis":null}}},
{"width":707,"height":37,"data":{"values":[{"a":0,"b":1,"v":0.514}]},"mark":{"type":"rule","color":"#111","strokeWidth":2},"encoding":{"x":{"field":"a","type":"quantitative","scale":{"domain":[0,1]},"axis":null},"x2":{"field":"b"},"y":{"field":"v","type":"quantitative","scale":{"domain":[0,1]},"axis":null}}},
{"width":64,"height":37,"data":{"values":[{"a":0,"b":1,"v":0.514}]},"mark":{"type":"rule","color":"#111","strokeWidth":2},"encoding":{"x":{"field":"a","type":"quantitative","scale":{"domain":[0,1]},"axis":null},"x2":{"field":"b"},"y":{"field":"v","type":"quantitative","scale":{"domain":[0,1]},"axis":null}}},
{"width":748,"height":37,"data":{"values":[{"a":0,"b":1,"v":0.514}]},"mark":{"type":"rule","color":"#111","strokeWidth":2},"encoding":{"x":{"field":"a","type":"quantitative","scale":{"domain":[0,1]},"axis":null},"x2":{"field":"b"},"y":{"field":"v","type":"quantitative","scale":{"domain":[0,1]},"axis":null}}},

{"width":168,"height":197,"data":{"values":[]},"mark":"point"},
{"width":702,"height":197,
"encoding":{
"x":{"field":"x","type":"quantitative","scale":{"domain":[0,831],"nice":false,"zero":false},"axis":{"orient":"top","title":null,"values":[0,100,200,300,400,500,600,700,800],"format":"d","labelExpr":"datum.value % 200 === 0 ? datum.label : ''","labelPadding":3}},
"y":{"field":"y","type":"quantitative","scale":{"domain":[0,5853],"nice":false},"axis":{"title":"Patient 11","titleAngle":0,"titleAlign":"left","titleBaseline":"alphabetic","titleX":-149,"titleY":49,"titleFont":"Liberation Serif","titleFontSize":27,"titleFontWeight":"normal","titleColor":"#000","values":[0,500,1000,1500,2000,2500,3000,3500,4000,4500,5000,5500],"format":"d","labelExpr":"datum.value % 1000 === 0 ? datum.label : ''","labelPadding":2}}
},
"layer":[
{"data":{"name":"trace"},"transform":[{"filter":"datum.p === 4"}],"mark":{"type":"line","color":"#1212d0","strokeWidth":1.4,"clip":true}},
{"data":{"name":"peaks"},"transform":[{"filter":"datum.p === 4"}],"mark":{"type":"rule","color":"#1e1e78","strokeWidth":1.5,"clip":true},"encoding":{"y2":{"datum":0}}},
{"data":{"name":"notes"},"transform":[{"filter":"datum.p === 4"}],"mark":{"type":"text","font":"Liberation Serif","fontSize":18,"color":"#000","align":"center","baseline":"middle"},"encoding":{"text":{"field":"t"}}}
]},
{"width":64,"height":197,"data":{"values":[]},"mark":"point"},
{"width":748,"height":197,"data":{"values":[]},"mark":"point"},

{"width":168,"height":43,"data":{"values":[{"a":0,"b":1,"v":0.674}]},"mark":{"type":"rule","color":"#111","strokeWidth":2},"encoding":{"x":{"field":"a","type":"quantitative","scale":{"domain":[0,1]},"axis":null},"x2":{"field":"b"},"y":{"field":"v","type":"quantitative","scale":{"domain":[0,1]},"axis":null}}},
{"width":707,"height":43,"data":{"values":[{"a":0,"b":1,"v":0.674}]},"mark":{"type":"rule","color":"#111","strokeWidth":2},"encoding":{"x":{"field":"a","type":"quantitative","scale":{"domain":[0,1]},"axis":null},"x2":{"field":"b"},"y":{"field":"v","type":"quantitative","scale":{"domain":[0,1]},"axis":null}}},
{"width":64,"height":43,"data":{"values":[{"a":0,"b":1,"v":0.674}]},"mark":{"type":"rule","color":"#111","strokeWidth":2},"encoding":{"x":{"field":"a","type":"quantitative","scale":{"domain":[0,1]},"axis":null},"x2":{"field":"b"},"y":{"field":"v","type":"quantitative","scale":{"domain":[0,1]},"axis":null}}},
{"width":748,"height":43,"data":{"values":[{"a":0,"b":1,"v":0.674}]},"mark":{"type":"rule","color":"#111","strokeWidth":2},"encoding":{"x":{"field":"a","type":"quantitative","scale":{"domain":[0,1]},"axis":null},"x2":{"field":"b"},"y":{"field":"v","type":"quantitative","scale":{"domain":[0,1]},"axis":null}}},

{"width":168,"height":202,"data":{"values":[]},"mark":"point"},
{"width":707,"height":202,
"encoding":{
"x":{"field":"x","type":"quantitative","scale":{"domain":[0,812],"nice":false,"zero":false},"axis":{"orient":"top","title":null,"values":[0,100,200,300,400,500,600,700,800],"format":"d","labelExpr":"datum.value % 200 === 0 ? datum.label : ''","labelPadding":3}},
"y":{"field":"y","type":"quantitative","scale":{"domain":[0,2738],"nice":false},"axis":{"title":"Patient 12","titleAngle":0,"titleAlign":"left","titleBaseline":"alphabetic","titleX":-149,"titleY":76,"titleFont":"Liberation Serif","titleFontSize":27,"titleFontWeight":"normal","titleColor":"#000","values":[0,200,400,600,800,1000,1200,1400,1600,1800,2000,2200,2400,2600],"format":"d","labelExpr":"datum.value % 400 === 0 ? datum.label : ''","labelPadding":2}}
},
"layer":[
{"data":{"name":"trace"},"transform":[{"filter":"datum.p === 5"}],"mark":{"type":"line","color":"#1212d0","strokeWidth":1.4,"clip":true}},
{"data":{"name":"peaks"},"transform":[{"filter":"datum.p === 5"}],"mark":{"type":"rule","color":"#1e1e78","strokeWidth":1.5,"clip":true},"encoding":{"y2":{"datum":0}}},
{"data":{"name":"notes"},"transform":[{"filter":"datum.p === 5"}],"mark":{"type":"text","font":"Liberation Serif","fontSize":18,"color":"#000","align":"center","baseline":"middle"},"encoding":{"text":{"field":"t"}}}
]},
{"width":64,"height":202,"data":{"values":[]},"mark":"point"},
{"width":702,"height":197,
"encoding":{
"x":{"field":"x","type":"quantitative","scale":{"domain":[0,851],"nice":false,"zero":false},"axis":{"orient":"top","offset":-6,"title":null,"values":[0,100,200,300,400,500,600,700,800],"format":"d","labelExpr":"datum.value % 200 === 0 ? datum.label : ''","labelPadding":3}},
"y":{"field":"y","type":"quantitative","scale":{"domain":[0,5018],"nice":false,"range":[197,6]},"axis":{"title":null,"values":[0,500,1000,1500,2000,2500,3000,3500,4000,4500],"format":"d","labelExpr":"datum.value % 1000 === 0 ? datum.label : ''","labelPadding":2}}
},
"layer":[
{"data":{"name":"trace"},"transform":[{"filter":"datum.p === 6"}],"mark":{"type":"line","color":"#1212d0","strokeWidth":1.4,"clip":true}},
{"data":{"name":"peaks"},"transform":[{"filter":"datum.p === 6"}],"mark":{"type":"rule","color":"#1e1e78","strokeWidth":1.5,"clip":true},"encoding":{"y2":{"datum":0}}},
{"data":{"name":"notes"},"transform":[{"filter":"datum.p === 6"}],"mark":{"type":"text","font":"Liberation Serif","fontSize":18,"color":"#000","align":"center","baseline":"middle"},"encoding":{"text":{"field":"t"}}}
]},

{"width":168,"height":14,"data":{"values":[]},"mark":"point"},
{"width":707,"height":14,"data":{"values":[]},"mark":"point"},
{"width":64,"height":14,"data":{"values":[]},"mark":"point"},
{"width":748,"height":14,"data":{"values":[]},"mark":"point"}
]
}
